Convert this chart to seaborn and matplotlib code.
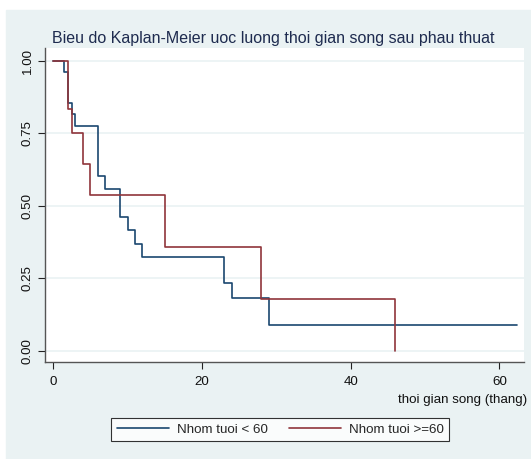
import pandas as pd
import matplotlib
matplotlib.use("Agg")
import matplotlib.pyplot as plt
from matplotlib.lines import Line2D
from matplotlib.patches import Rectangle
import seaborn as sns

# Kaplan-Meier estimates
t_young = [0, 1.5, 2, 2.5, 3, 6, 7, 9, 10, 11, 12, 23, 24, 29, 62.3]
s_young = [1.0, 0.962, 0.853, 0.815, 0.776, 0.603, 0.557, 0.462, 0.416,
           0.368, 0.324, 0.232, 0.183, 0.090, 0.090]
t_old = [0, 2, 2.5, 4, 5, 15, 28, 46]
s_old = [1.0, 0.833, 0.75, 0.643, 0.536, 0.357, 0.179, 0.0]

groups = ["Nhom tuoi < 60", "Nhom tuoi >=60"]
yticks = [0, 0.25, 0.5, 0.75, 1.0]
ytick_labels = ["0.00", "0.25", "0.50", "0.75", "1.00"]
xticks = [0, 20, 40, 60]

df = pd.concat([
    pd.DataFrame({"time": t_young, "surv": s_young, "grp": groups[0]}),
    pd.DataFrame({"time": t_old, "surv": s_old, "grp": groups[1]}),
])

sns.set_style("white")
plt.rcParams["font.family"] = ["Liberation Sans", "DejaVu Sans"]

bg = "#eaf2f3"
pal = {groups[0]: "#1a476f", groups[1]: "#90353b"}

fig = plt.figure(figsize=(5.31, 4.59), dpi=100, facecolor="white")
fig.patches.append(Rectangle((6 / 531, 0), 1, (459 - 10) / 459,
                             transform=fig.transFigure, color=bg, zorder=-10))
ax = fig.add_axes([45 / 531, 1 - 361.7 / 459, (524 - 45) / 531, (361.7 - 48) / 459])
ax.set_facecolor("white")

for g in groups:
    sns.lineplot(data=df[df.grp == g], x="time", y="surv", color=pal[g],
                 drawstyle="steps-post", lw=1.2, ax=ax, legend=False,
                 estimator=None, sort=False)

ax.set_xlim(-1.1, 63.3)
ax.set_ylim(-0.038, 1.044)
ax.set_yticks(yticks)
ax.set_yticklabels(ytick_labels, rotation=90, va="center")
ax.set_xticks(xticks)
for y in yticks:
    ax.axhline(y, color=bg, lw=1.2, zorder=0)

for s in ["top", "right"]:
    ax.spines[s].set_visible(False)
for s in ["left", "bottom"]:
    ax.spines[s].set_color("#555555")
    ax.spines[s].set_linewidth(1.0)
ax.tick_params(axis="both", direction="out", length=5, width=0.8, color="#222222",
               labelsize=9.6, labelcolor="#111111", left=True, bottom=True)
ax.tick_params(axis="x", pad=5)
ax.tick_params(axis="y", pad=3)

ax.set_xlabel("")
ax.set_ylabel("")
fig.text(527 / 531, 1 - 400 / 459, "thoi gian song (thang)", ha="right", va="center",
         fontsize=9.6, color="#111111")
fig.text(52 / 531, 1 - 38 / 459,
         "Bieu do Kaplan-Meier uoc luong thoi gian song sau phau thuat",
         ha="left", va="center", fontsize=11.5, color="#1e2b4f")

handles = [Line2D([], [], color=pal[g], lw=1.2) for g in groups]
leg = fig.legend(handles, groups, loc="center", bbox_to_anchor=(0.528, 0.064),
                 ncol=2, fontsize=9.6, frameon=True, fancybox=False,
                 handlelength=3.9, handletextpad=0.6, columnspacing=1.6,
                 borderpad=0.4)
leg.get_frame().set_edgecolor("black")
leg.get_frame().set_linewidth(0.8)
leg.get_frame().set_facecolor("white")

fig.savefig("out.png", dpi=100, facecolor=fig.get_facecolor())
